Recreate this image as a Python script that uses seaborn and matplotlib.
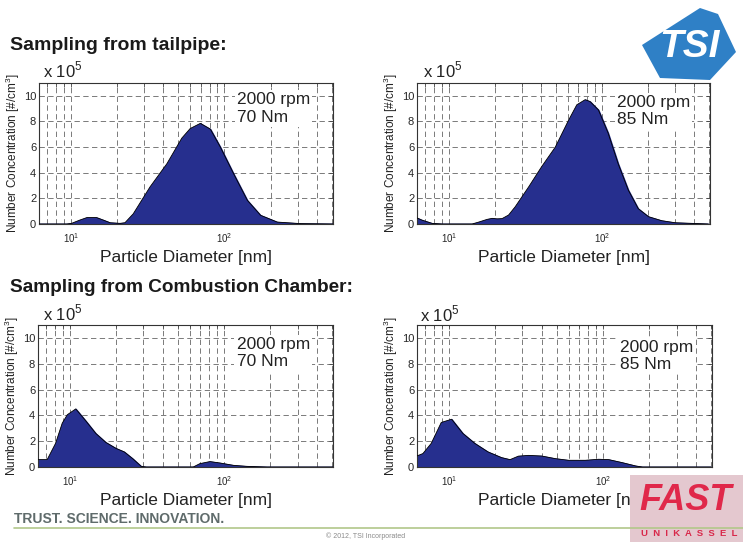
import numpy as np
import matplotlib
matplotlib.use("Agg")
import matplotlib.pyplot as plt
import seaborn as sns
from matplotlib.patches import Polygon, Rectangle
from matplotlib.ticker import LogLocator

# particle size distributions, diameter in nm, concentration in 1e5 #/cm3
tail70_d = [6.2, 9.4, 10.1, 11.4, 12.7, 14.7, 16.3, 18.0, 20.9, 22.5, 25.5, 32.8, 42.2,
            52.8, 59.9, 69.7, 81.0, 94.1, 115, 141, 172, 221, 314, 519]
tail70_n = [0.0, 0.0, 0.05, 0.3, 0.5, 0.5, 0.3, 0.1, 0.05, 0.1, 0.8, 2.9, 4.7,
            6.7, 7.45, 7.85, 7.4, 6.0, 3.9, 1.85, 0.68, 0.15, 0.03, 0.0]

tail85_d = [6.06, 6.69, 7.78, 9.05, 14.2, 15.7, 17.8, 19.2, 20.7, 22.3, 24.6, 27.2, 33.3,
            40.6, 49.7, 60.7, 68.7, 77.9, 83.9, 95.1, 110, 128, 149, 173, 202, 246, 301, 497]
tail85_n = [0.52, 0.3, 0.05, 0.0, 0.0, 0.15, 0.36, 0.44, 0.4, 0.42, 0.7, 1.35, 2.9,
            4.5, 6.0, 8.1, 9.3, 9.7, 9.55, 8.9, 7.1, 4.7, 2.65, 1.2, 0.57, 0.26, 0.1, 0.0]

comb70_d = [6.11, 7.11, 8.06, 8.91, 9.61, 10.9, 12.7, 14.7, 17.1, 19.9, 22.5, 25.5, 29.0,
            31.2, 63.1, 69.7, 81.0, 94.1, 115, 141, 190, 519]
comb70_n = [0.57, 0.57, 1.83, 3.4, 4.05, 4.5, 3.55, 2.6, 1.9, 1.44, 1.17, 0.65, 0.05,
            0.0, 0.0, 0.26, 0.42, 0.31, 0.13, 0.05, 0.0, 0.0]

comb85_d = [5.97, 6.77, 7.67, 8.91, 10.4, 12.3, 14.7, 17.9, 21.9, 24.9, 28.2, 32.8, 40.0,
            48.9, 59.7, 76.7, 93.8, 109, 133, 163, 180, 501]
comb85_n = [0.78, 1.04, 1.83, 3.45, 3.7, 2.6, 1.83, 1.17, 0.73, 0.57, 0.84, 0.9, 0.85,
            0.65, 0.52, 0.52, 0.6, 0.57, 0.34, 0.08, 0.0, 0.0]

panels = [
    (tail70_d, tail70_n, "2000 rpm\n70 Nm"),
    (tail85_d, tail85_n, "2000 rpm\n85 Nm"),
    (comb70_d, comb70_n, "2000 rpm\n70 Nm"),
    (comb85_d, comb85_n, "2000 rpm\n85 Nm"),
]
y_ticks = [0, 2, 4, 6, 8, 10]

sns.set_style("white")
plt.rcParams['font.family'] = ['Liberation Sans', 'DejaVu Sans']
plt.rcParams['mathtext.fontset'] = 'custom'
plt.rcParams['mathtext.rm'] = 'Liberation Sans'

W, H = 743, 542
fig = plt.figure(figsize=(W / 100, H / 100), dpi=100)
fig.patch.set_facecolor("white")

# axes boxes in pixels: left, right, top, bottom
boxes = [(39, 333, 83, 224), (417, 710, 83, 224), (38, 333, 325, 467), (417, 712, 325, 467)]
text_pos = [(0.673, 0.935), (0.683, 0.915), (0.673, 0.915), (0.688, 0.895)]
exp_pos = [(43, 70), (423, 70), (43, 313), (420, 314)]
fill_color = "#262f8e"
grid_kw = dict(linestyle=(0, (5.5, 3.5)), color="#7a7a7a", linewidth=0.7)

for (d, n, label), (l, r, t, b), (tx, ty), (ex, ey) in zip(panels, boxes, text_pos, exp_pos):
    ax = fig.add_axes([l / W, 1 - b / H, (r - l) / W, (b - t) / H])
    ax.fill_between(d, n, 0, color=fill_color, zorder=2)
    sns.lineplot(x=d, y=n, ax=ax, color="black", linewidth=0.6, zorder=3, estimator=None)
    ax.set_xscale("log")
    ax.set_xlim(6.2, 510)
    ax.set_ylim(0, 11)
    ax.set_yticks(y_ticks)
    ax.xaxis.set_minor_locator(LogLocator(base=10, subs=np.arange(2, 10)))
    ax.grid(True, which="both", axis="x", **grid_kw)
    ax.grid(True, which="major", axis="y", **grid_kw)
    ax.set_axisbelow(True)
    ax.tick_params(axis="both", which="both", direction="in", labelsize=8, pad=2,
                   top=True, right=True, length=3, width=0.6, color="#444444")
    ax.tick_params(axis="x", which="major", labelsize=7, pad=5)
    for sp in ax.spines.values():
        sp.set_color("#333333")
        sp.set_linewidth(0.8)
    ax.set_xlabel("Particle Diameter [nm]", fontsize=12.5, labelpad=4, color="#222222")
    ax.set_ylabel("Number Concentration [#/cm$^3$]", fontsize=8.5, labelpad=1, color="#222222")
    ax.text(tx, ty, label, transform=ax.transAxes, fontsize=12.5, va="top", ha="left",
            linespacing=1.2, color="#222222", zorder=4,
            bbox=dict(facecolor="white", edgecolor="none", pad=1.5))
    fig.text(ex / W, 1 - ey / H, "x 10$^5$", fontsize=12, va="center", ha="left",
             color="#222222")

fig.text(10 / W, 1 - 45 / H, "Sampling from tailpipe:", fontsize=14, fontweight="bold",
         va="center", ha="left", color="#1a1a1a")
fig.text(10 / W, 1 - 287 / H, "Sampling from Combustion Chamber:", fontsize=13.7,
         fontweight="bold", va="center", ha="left", color="#1a1a1a")

# footer
fig.text(14 / W, 1 - 519 / H, "TRUST. SCIENCE. INNOVATION.", fontsize=10, color="#5f6b6b",
         fontweight="bold", va="center", ha="left")
fig.add_artist(plt.Line2D([14 / W, 1.0], [1 - 528 / H, 1 - 528 / H], color="#b2c78a",
                          linewidth=1.2, transform=fig.transFigure))
fig.text(366 / W, 1 - 536 / H, "\u00a9 2012, TSI Incorporated", fontsize=5, color="#8a8a8a",
         va="center", ha="center")

# TSI logo
logo = Polygon([[642 / W, 1 - 45 / H], [700 / W, 1 - 8 / H], [718 / W, 1 - 14 / H],
                [736 / W, 1 - 52 / H], [710 / W, 1 - 80 / H], [660 / W, 1 - 78 / H]],
               closed=True, transform=fig.transFigure, facecolor="#2f80c6", edgecolor="none")
fig.add_artist(logo)
fig.text(689 / W, 1 - 47 / H, "TSI", fontsize=28, fontweight="bold", fontstyle="italic",
         color="white", ha="center", va="center")

# FAST logo
fig.add_artist(Rectangle((630 / W, 0), 113 / W, 67 / H, transform=fig.transFigure,
                         facecolor="#e4c8cf", edgecolor="none"))
fig.text(686 / W, 1 - 500 / H, "FAST", fontsize=26, fontweight="bold", fontstyle="italic",
         color="#e0284a", ha="center", va="center")
fig.text(689 / W, 1 - 533 / H, "U  N  I  K  A  S  S  E  L", fontsize=6.8, fontweight="bold",
         color="#d8284a", ha="center", va="center")

fig.savefig("out.png", dpi=100)
